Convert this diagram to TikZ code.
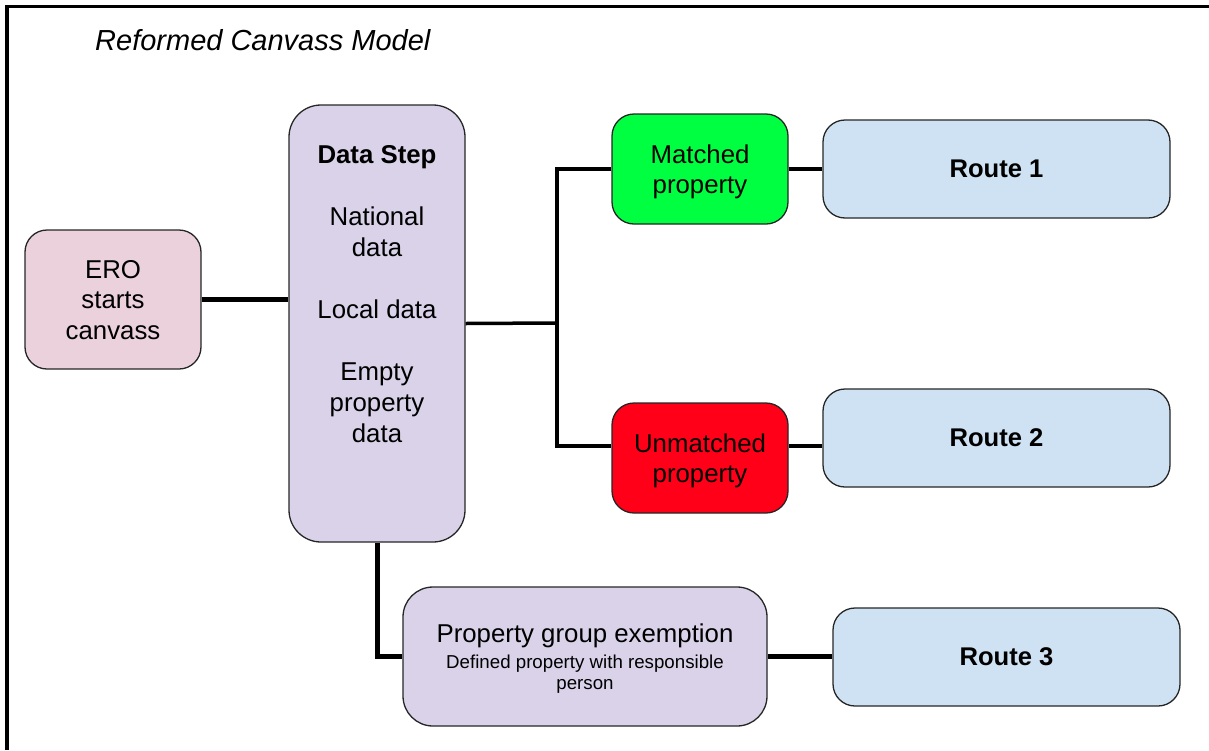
\documentclass[tikz,border=0pt]{standalone}
\usepackage{fontspec}
\setmainfont{Liberation Sans}
\definecolor{eropink}{HTML}{EAD1DC}
\definecolor{datalilac}{HTML}{D9D2E9}
\definecolor{routeblue}{HTML}{CFE2F3}
\definecolor{matchgreen}{HTML}{00FF40}
\definecolor{unmatchred}{HTML}{FF0018}
\tikzset{
  box/.style={draw=black!85, line width=1.3pt, rounded corners=22pt, align=center,
    inner sep=0pt, font=\fontsize{25.8}{30.5}\selectfont},
  routebox/.style={box, fill=routeblue, minimum width=347pt, minimum height=98pt,
    font=\fontsize{25.6}{30}\selectfont\bfseries},
  link/.style={line width=3.5pt},
  heavylink/.style={line width=5pt},
}
\begin{document}
\begin{tikzpicture}[x=1pt,y=-1pt]
  \useasboundingbox (0,0) rectangle (1209,750);

  % frame
  \draw[line width=3.5pt] (7,750) -- (7,6.5) -- (1209,6.5);
  \node[anchor=base west, inner sep=0pt, font=\fontsize{29}{34}\selectfont\itshape] (title) at (95,50) {Reformed Canvass Model};

  % boxes
  \node[box, fill=eropink, text depth=-4pt, minimum width=176pt, minimum height=139pt] (ero) at (113,299.5) {ERO\\starts\\canvass};
  \node[box, fill=datalilac, rounded corners=32pt, font=\fontsize{25.8}{31}\selectfont, minimum width=176pt, minimum height=437pt] (datastep) at (377,323.5)
    {\textbf{Data Step}\\~\\National\\data\\~\\Local data\\~\\Empty\\property\\data\\~\\[-2pt]~};
  \node[box, fill=matchgreen, text depth=-2.5pt, minimum width=176pt, minimum height=110pt] (matched) at (700,169) {Matched\\property};
  \node[box, fill=unmatchred, text depth=-2.5pt, minimum width=176pt, minimum height=110pt] (unmatched) at (700,458) {Unmatched\\property};
  \node[routebox] (route1) at (996.5,169) {Route 1};
  \node[routebox] (route2) at (996.5,438) {Route 2};
  \node[box, fill=datalilac, text depth=-2pt, rounded corners=30pt, minimum width=364pt, minimum height=139pt] (exemption) at (585,656.5)
    {Property group exemption\\[-4.5pt]\fontsize{18.7}{21}\selectfont Defined property with responsible\\[-9.5pt]\fontsize{18.7}{21}\selectfont person};
  \node[routebox] (route3) at (1006.5,657) {Route 3};

  % connectors
  \coordinate (fork) at (557,323);
  \draw[heavylink] (ero.east) -- (ero.east -| datastep.west);
  \draw[link] (datastep.east) -- (fork);
  \draw[link] (matched.west) -| (fork) |- ([yshift=12pt]unmatched.west);
  \draw[link] (matched.east) -- (route1.west);
  \draw[link] ([yshift=12pt]unmatched.east) -- ([yshift=12pt]unmatched.east -| route2.west);
  \draw[heavylink] (datastep.south) |- (exemption.west);
  \draw[heavylink] (exemption.east) -- (exemption.east -| route3.west);
\end{tikzpicture}
\end{document}
